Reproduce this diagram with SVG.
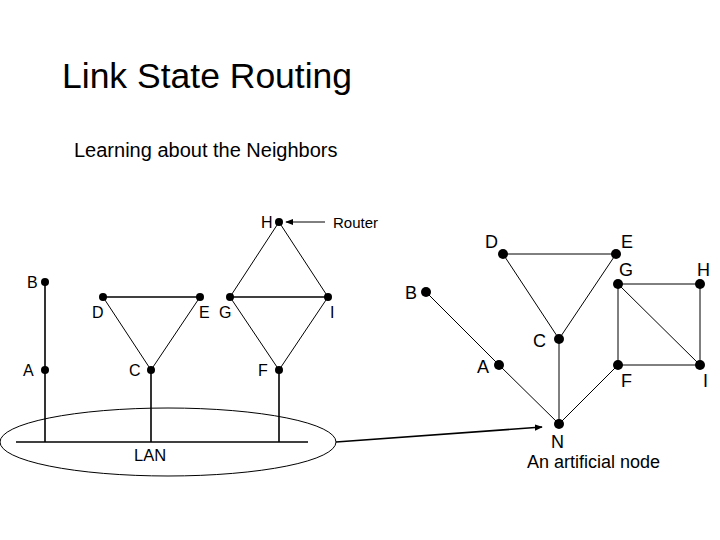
<svg xmlns="http://www.w3.org/2000/svg" width="720" height="540" viewBox="0 0 720 540">
<style>
text{font-family:"Liberation Sans",Arial,sans-serif;fill:#000}
.lbl{font-size:16px}
.rl{font-size:18px}
.ln{stroke:#000;stroke-width:1.6;fill:none}
.th{stroke:#000;stroke-width:1;fill:none}
.dot{fill:#000}
</style>
<defs>
<marker id="ah" viewBox="0 0 10 10" refX="9" refY="5" markerWidth="8" markerHeight="8" markerUnits="userSpaceOnUse" orient="auto"><path d="M0,1 L10,5 L0,9 z" fill="#000"/></marker>
</defs>
<rect width="720" height="540" fill="#fff"/>
<text x="62" y="88" font-size="35.5">Link State Routing</text>
<text x="74" y="157" font-size="20">Learning about the Neighbors</text>
<g id="connectors">
<line class="ln" x1="16" y1="442" x2="308" y2="442"/>
<line class="ln" x1="45" y1="282" x2="45" y2="442"/>
<line class="ln" x1="151" y1="370" x2="151" y2="442"/>
<line class="ln" x1="279" y1="370" x2="279" y2="442"/>
<line class="ln" x1="103" y1="297" x2="200" y2="297"/>
<line class="ln" x1="230" y1="297" x2="328" y2="297"/>
<line class="th" x1="103" y1="297" x2="151" y2="370"/>
<line class="th" x1="200" y1="297" x2="151" y2="370"/>
<line class="th" x1="230" y1="297" x2="279" y2="370"/>
<line class="th" x1="328" y1="297" x2="279" y2="370"/>
<line class="th" x1="230" y1="297" x2="279" y2="222"/>
<line class="th" x1="328" y1="297" x2="279" y2="222"/>
<line class="th" x1="325" y1="222" x2="286" y2="222" marker-end="url(#ah)"/>
<ellipse class="th" cx="168" cy="442" rx="168" ry="34"/>
<line class="ln" x1="336" y1="442" x2="542" y2="427" marker-end="url(#ah)"/>
<line class="th" x1="503" y1="254" x2="616" y2="254"/>
<line class="th" x1="503" y1="254" x2="559" y2="339"/>
<line class="th" x1="616" y1="254" x2="559" y2="339"/>
<line class="th" x1="559" y1="339" x2="559" y2="424"/>
<line class="th" x1="426" y1="292" x2="499" y2="365"/>
<line class="th" x1="499" y1="365" x2="559" y2="424"/>
<line class="th" x1="559" y1="424" x2="618" y2="365"/>
<line class="th" x1="618" y1="284" x2="700" y2="284"/>
<line class="th" x1="618" y1="284" x2="618" y2="365"/>
<line class="th" x1="618" y1="284" x2="700" y2="365"/>
<line class="th" x1="700" y1="284" x2="700" y2="365"/>
<line class="th" x1="618" y1="365" x2="700" y2="365"/>
</g>
<g id="L-B"><circle class="dot" cx="45" cy="282" r="4"/><text class="lbl" x="27" y="288">B</text></g>
<g id="L-A"><circle class="dot" cx="45" cy="370" r="4"/><text class="lbl" x="23" y="376">A</text></g>
<g id="L-C"><circle class="dot" cx="151" cy="370" r="4"/><text class="lbl" x="129" y="376">C</text></g>
<g id="L-F"><circle class="dot" cx="279" cy="370" r="4"/><text class="lbl" x="258" y="376">F</text></g>
<g id="L-D"><circle class="dot" cx="103" cy="297" r="4"/><text class="lbl" x="92" y="318">D</text></g>
<g id="L-E"><circle class="dot" cx="200" cy="297" r="4"/><text class="lbl" x="199" y="318">E</text></g>
<g id="L-G"><circle class="dot" cx="230" cy="297" r="4"/><text class="lbl" x="219" y="318">G</text></g>
<g id="L-I"><circle class="dot" cx="328" cy="297" r="4"/><text class="lbl" x="330" y="318">I</text></g>
<g id="L-H"><circle class="dot" cx="279" cy="222" r="4"/><text class="lbl" x="261" y="228">H</text></g>
<g id="router-label"><text x="333" y="228" font-size="15">Router</text></g>
<g id="LAN"><text x="134" y="461" font-size="16.5">LAN</text></g>
<g id="R-D"><circle class="dot" cx="503" cy="254" r="5"/><text class="rl" x="485" y="248">D</text></g>
<g id="R-E"><circle class="dot" cx="616" cy="254" r="5"/><text class="rl" x="621" y="248">E</text></g>
<g id="R-G"><circle class="dot" cx="618" cy="284" r="5"/><text class="rl" x="619" y="276">G</text></g>
<g id="R-H"><circle class="dot" cx="700" cy="284" r="5"/><text class="rl" x="697" y="276">H</text></g>
<g id="R-B"><circle class="dot" cx="426" cy="292" r="5"/><text class="rl" x="405" y="299">B</text></g>
<g id="R-C"><circle class="dot" cx="559" cy="339" r="5"/><text class="rl" x="533" y="347">C</text></g>
<g id="R-A"><circle class="dot" cx="499" cy="365" r="5"/><text class="rl" x="477" y="373">A</text></g>
<g id="R-F"><circle class="dot" cx="618" cy="365" r="5"/><text class="rl" x="621" y="387">F</text></g>
<g id="R-I"><circle class="dot" cx="700" cy="365" r="5"/><text class="rl" x="703" y="387">I</text></g>
<g id="R-N"><circle class="dot" cx="559" cy="424" r="5"/><text class="rl" x="551" y="448">N</text></g>
<g id="note"><text x="527" y="468" font-size="18">An artificial node</text></g>
</svg>
